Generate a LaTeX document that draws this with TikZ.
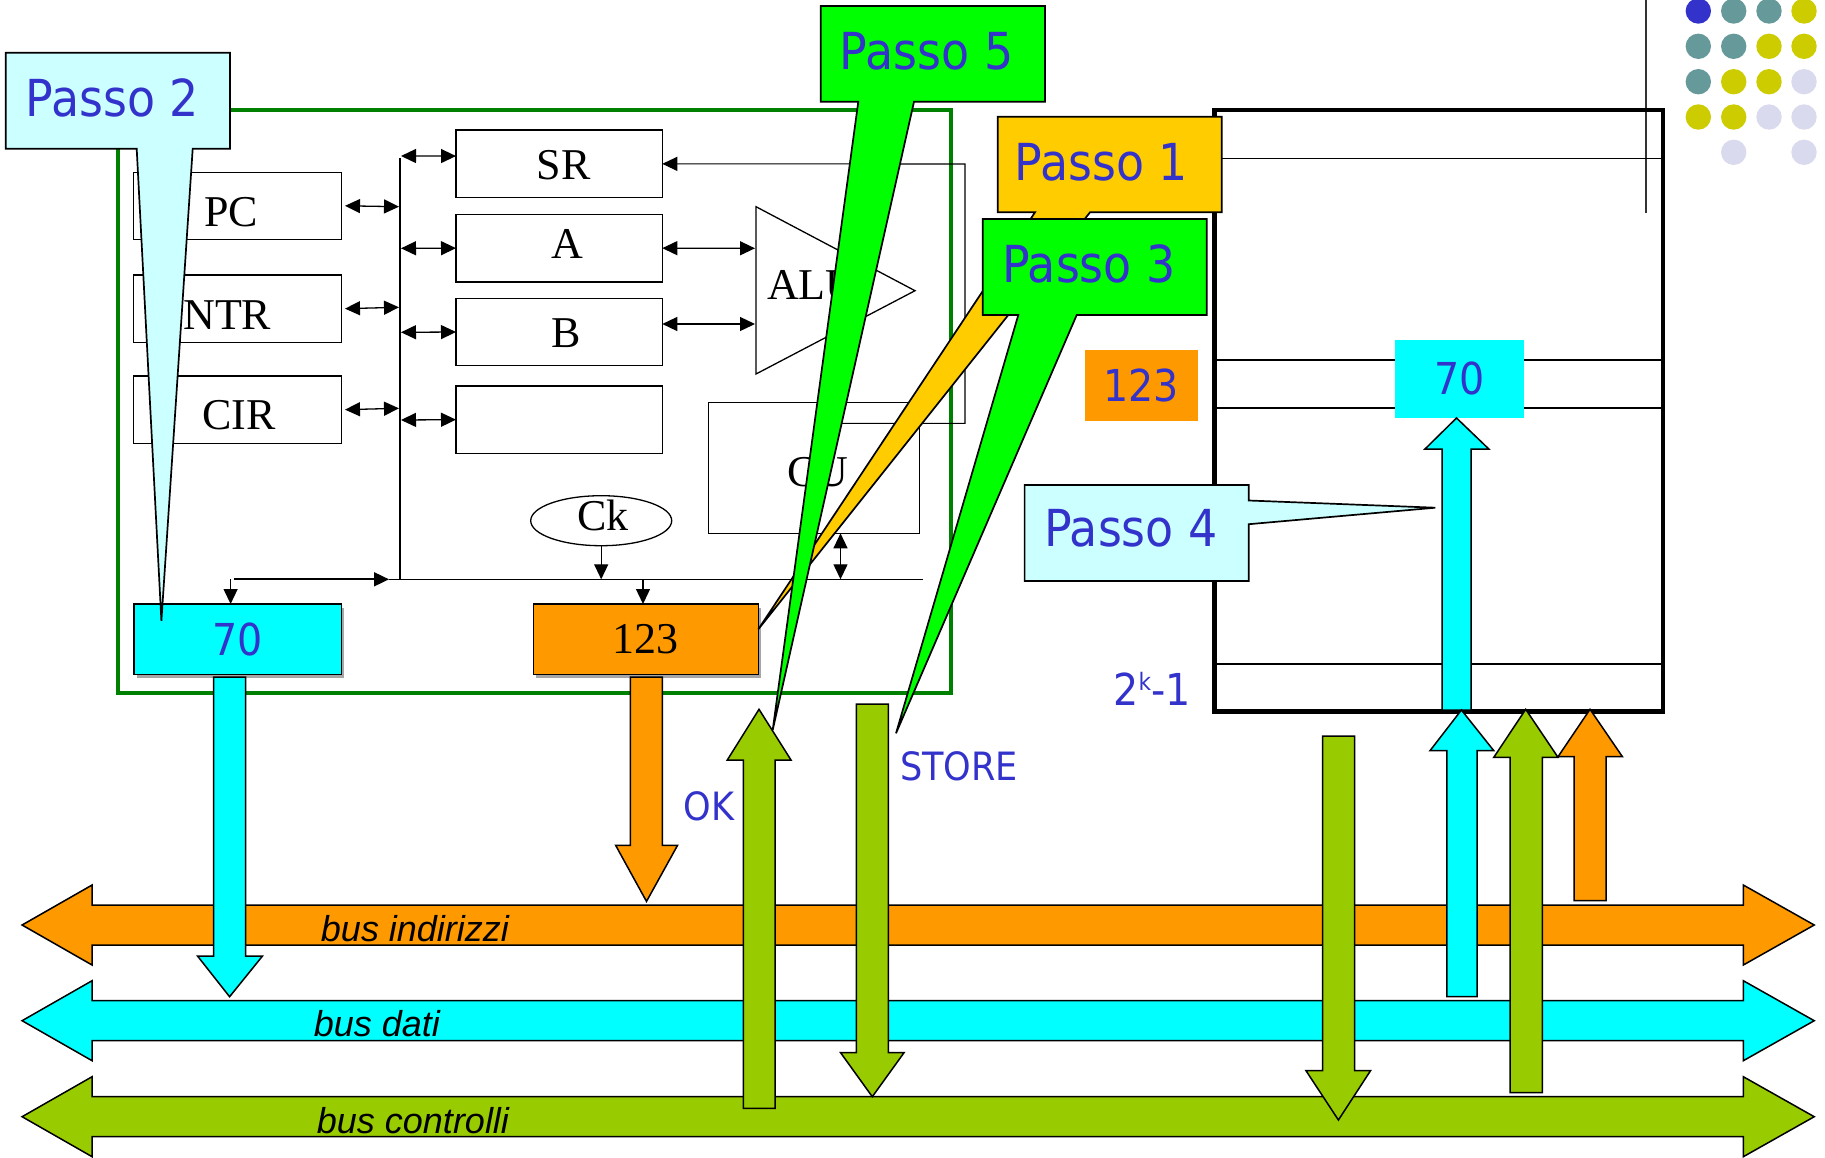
\documentclass[tikz,border=0pt]{standalone}
\usepackage{fontspec}
\setmainfont{Liberation Serif}
\newfontfamily\pfont[FakeStretch=0.9]{DejaVu Sans}
\newfontfamily\bfont{Liberation Sans}
\usetikzlibrary{arrows.meta,shapes.geometric,shadows}
\definecolor{cyanA}{HTML}{00FFFF}
\definecolor{orA}{HTML}{FF9900}
\definecolor{grA}{HTML}{99CC00}
\definecolor{limeA}{HTML}{00FF00}
\definecolor{goldA}{HTML}{FFCC00}
\definecolor{lcyanA}{HTML}{CCFFFF}
\definecolor{txtblue}{HTML}{3333CC}
\definecolor{cpugreen}{HTML}{008000}
\definecolor{dblue}{HTML}{3333CC}
\definecolor{dteal}{HTML}{669999}
\definecolor{dyel}{HTML}{CCCC00}
\definecolor{lav}{HTML}{DADAEE}
\tikzset{
  thinln/.style={line width=1.3pt},
  reg/.style={draw, line width=1.3pt, rectangle, inner sep=0pt, outer sep=0pt},
  dbl/.style={line width=1.3pt, {Triangle[length=15pt,width=14pt]}-{Triangle[length=15pt,width=14pt]}},
  sgl/.style={line width=1.3pt, -{Triangle[length=15pt,width=14pt]}},
  serif44/.style={font=\fontsize{44}{48}\selectfont, inner sep=0pt},
  ptext/.style={font=\pfont\fontsize{51}{56}\selectfont, text=txtblue, inner sep=0pt, anchor=base},
  ltext/.style={font=\pfont\fontsize{39}{44}\selectfont, text=txtblue, inner sep=0pt, anchor=base},
  bustext/.style={font=\bfont\itshape\fontsize{36}{40}\selectfont, inner sep=0pt, anchor=base},
  busarrow/.style={draw=black, line width=1.5pt, line join=miter},
  fat/.style={draw=black, line width=1.5pt, line join=miter},
  pbox/.style={draw=black, line width=1.7pt, line join=miter},
  shadowed/.style={drop shadow={shadow xshift=3pt, shadow yshift=-3.5pt, fill=gray!70, opacity=1}}
}
\newcommand\mybus[2]{%
  \filldraw[fill=#2, busarrow] (22.1,#1) -- (92.1,#1-40) -- (92.1,#1-20) -- (1743.3,#1-20) -- (1743.3,#1-40) -- (1814.2,#1) -- (1743.3,#1+40) -- (1743.3,#1+20) -- (92.1,#1+20) -- (92.1,#1+40) -- cycle;}
\begin{document}
\begin{tikzpicture}[x=1pt,y=-1pt]
\useasboundingbox (0,0) rectangle (1825,1157);
% decorative dots
\foreach \cc/\px/\py in {dblue/1698.3/11, dteal/1733.7/11, dteal/1769/11, dyel/1804/11,
  dteal/1698.3/46.3, dteal/1733.7/46.3, dyel/1769/46.3, dyel/1804/46.3,
  dteal/1698.3/81.7, dyel/1733.7/81.7, dyel/1769/81.7, lav/1804/81.7,
  dyel/1698.3/117, dyel/1733.7/117, lav/1769/117, lav/1804/117,
  lav/1733.7/152.3, lav/1804/152.3}
  \fill[\cc] (\px,\py) circle[radius=12.7pt];
\draw[thinln, black!80] (1646,0) -- (1646,212.6);

% CPU box
\draw[cpugreen, line width=4pt] (117.5,110) rectangle (950.5,692.5);

% registers
\node[reg, minimum width=208.4pt, minimum height=67pt] (pc) at (237.5,205.8) {};
\node[reg, minimum width=208.4pt, minimum height=67.3pt] (intr) at (237.5,308.65) {};
\node[reg, minimum width=208.4pt, minimum height=67.3pt] (cir) at (237.5,409.65) {};
\node[reg, minimum width=206.3pt, minimum height=67.7pt] (sr) at (559.15,163.85) {};
\node[reg, minimum width=206.3pt, minimum height=67.7pt] (a) at (559.15,248.15) {};
\node[reg, minimum width=206.3pt, minimum height=67.4pt] (b) at (559.15,332) {};
\node[reg, minimum width=206.3pt, minimum height=67.3pt] (emp) at (559.15,419.65) {};
\node[reg, minimum width=211pt, minimum height=130.6pt] (cu) at (813.8,468) {};
\node[draw, ellipse, line width=1.3pt, inner sep=0pt, outer sep=0pt, minimum width=141pt, minimum height=50pt] (ck) at (601.2,520.7) {};
\draw[line width=1.3pt, line join=miter] (756,206.7) -- (915,290.7) -- (756,374) -- cycle;
\coordinate (aluA) at (755,248.3);
\coordinate (aluB) at (755,324);

\node[serif44, anchor=base] (tpc) at (231.3,226) {PC};
\node[serif44, anchor=base] (tintr) at (220,329) {INTR};
\node[serif44, anchor=base] (tcir) at (239,429) {CIR};
\node[serif44, anchor=base] (tsr) at (563.8,179.3) {SR};
\node[serif44, anchor=base] (ta) at (567.8,258.7) {A};
\node[serif44, anchor=base] (tb) at (566.5,347.3) {B};
\node[serif44, anchor=base] (tck) at (602.8,530) {Ck};
\node[serif44, anchor=base] (tcu) at (818,486.7) {CU};
\node[serif44, anchor=base west] (talu) at (767,299.3) {ALU};

% internal bus
\coordinate (bust) at (400,158.3);
\coordinate (busb) at (400,579.3);
\draw[thinln] (bust) -- (busb);
\coordinate (jpc) at (399,206.7);
\coordinate (jintr) at (399,307.3);
\coordinate (jcir) at (399,408.3);
\draw[dbl] ([xshift=3.3pt]pc.east) -- (jpc);
\draw[dbl] ([xshift=3.3pt]intr.east) -- (jintr);
\draw[dbl] ([xshift=3.3pt]cir.east) -- (jcir);
\coordinate (jsr) at (401,156);
\coordinate (ja) at (401,248.3);
\coordinate (jb) at (401,332.3);
\coordinate (je) at (401,420);
\draw[dbl] (jsr) -- ([yshift=7.8pt]sr.west);
\draw[dbl] (ja) -- (a.west);
\draw[dbl] (jb) -- (b.west);
\draw[dbl] (je) -- (emp.west);
\draw[dbl] (a.east) -- (aluA);
\draw[dbl] ([yshift=8pt]b.east) -- (aluB);
\coordinate (fb1) at (830,423.3);
\coordinate (fb2) at (965,423.3);
\coordinate (fb3) at (965,164);
\draw[sgl, line width=1.1pt] (fb1) -- (fb2) -- (fb3) -- (sr.east);

% CPU bottom boxes
\node[reg, fill=cyanA, shadowed, minimum width=207.4pt, minimum height=70.3pt, text=txtblue, font=\pfont\fontsize{44}{48}\selectfont] (r70) at (237.7,639.15) {70};
\node[reg, fill=orA, shadowed, minimum width=224.9pt, minimum height=70.3pt, font=\fontsize{44}{48}\selectfont] (r123) at (645.85,639.15) {123};

\coordinate (hl) at (234.4,579.3);
\coordinate (harr) at (389,579.3);
\coordinate (hr) at (923,579.3);
\draw[sgl, line width=1.8pt] (hl) -- (harr);
\draw[thinln] (harr) -- (hr);
\coordinate (h70) at (230.6,579.3);
\draw[sgl] (h70) -- (h70 |- r70.north);
\draw[sgl] (ck.south) -- (ck.south |- hr);
\coordinate (h123) at (643,579.3);
\draw[sgl] (h123) -- (h123 |- r123.north);
\coordinate (hcu) at (840.5,579.3);
\draw[dbl] (hcu |- cu.south) -- (hcu);

% memory
\node[draw, line width=4.5pt, inner sep=0pt, outer sep=0pt, minimum width=448.7pt, minimum height=601.7pt] (mem) at (1438.65,410.85) {};
\foreach \ly in {158.3,360,408,664} \draw[thinln] (1214.3,\ly) -- (1663,\ly);
\node[fill=cyanA, inner sep=0pt, minimum width=128.7pt, minimum height=78.2pt, text=txtblue, font=\pfont\fontsize{44}{48}\selectfont] (m70) at (1459.35,378.9) {70};
\node[fill=orA, inner sep=0pt, minimum width=113pt, minimum height=70.6pt, text=txtblue, font=\pfont\fontsize{44}{48}\selectfont] (m123) at (1141.3,385.3) {123};
\filldraw[fat, fill=cyanA] (1442,710) -- (1442,449) -- (1425,449) -- (1456.5,418) -- (1488.8,449) -- (1471,449) -- (1471,710) -- cycle;
\node[font=\pfont\fontsize{44}{48}\selectfont, text=txtblue, inner sep=0pt, anchor=base] (t2k) at (1152,705) {2\raisebox{15pt}{\fontsize{24}{26}\selectfont k}-1};

% buses
\mybus{925}{orA}
\mybus{1020.7}{cyanA}
\mybus{1116.7}{grA}
\node[bustext] (lbi) at (415,941.7) {bus indirizzi};
\node[bustext] (lbd) at (376.8,1036.7) {bus dati};
\node[bustext] (lbc) at (413,1133.3) {bus controlli};

% vertical arrows
\filldraw[fat, fill=cyanA] (213.6,677) -- (213.6,956) -- (197.5,956) -- (229.6,996.7) -- (262.5,956) -- (245.7,956) -- (245.7,677) -- cycle;
\filldraw[fat, fill=orA] (630.4,677) -- (630.4,845.4) -- (615.7,845.4) -- (646.5,901.4) -- (677.5,845.4) -- (662.3,845.4) -- (662.3,677) -- cycle;
\filldraw[fat, fill=grA] (743.3,1108.3) -- (743.3,760) -- (727.3,760) -- (759,709.3) -- (791,760) -- (775,760) -- (775,1108.3) -- cycle;
\filldraw[fat, fill=grA] (856.3,704) -- (856.3,1052.7) -- (840.6,1052.7) -- (872.3,1096.7) -- (904,1052.7) -- (888.4,1052.7) -- (888.4,704) -- cycle;
\filldraw[fat, fill=grA] (1322.6,736) -- (1322.6,1070.7) -- (1306,1070.7) -- (1338.4,1120) -- (1370.5,1070.7) -- (1354.6,1070.7) -- (1354.6,736) -- cycle;
\filldraw[fat, fill=cyanA] (1446.8,996.7) -- (1446.8,750.7) -- (1430,750.7) -- (1461.4,710) -- (1493.8,750.7) -- (1477,750.7) -- (1477,996.7) -- cycle;
\filldraw[fat, fill=grA] (1510,1092.7) -- (1510,757.3) -- (1493.8,757.3) -- (1525.7,709.3) -- (1558,757.3) -- (1542.4,757.3) -- (1542.4,1092.7) -- cycle;
\filldraw[fat, fill=orA] (1574,900.7) -- (1574,756.7) -- (1558,756.7) -- (1590,709.3) -- (1622.4,756.7) -- (1606,756.7) -- (1606,900.7) -- cycle;

\node[ltext] (tok) at (709,820) {OK};
\node[ltext] (tstore) at (959,780.7) {STORE};

% callouts
\filldraw[pbox, fill=lcyanA] (5.7,52.7) -- (230,52.7) -- (230,148.7) -- (192.7,148.7) -- (161.4,620.7) -- (136.7,148.7) -- (5.7,148.7) -- cycle;
\node[ptext] (p2) at (112.5,116) {Passo 2};
\filldraw[pbox, fill=goldA] (997.7,116.7) -- (1221.7,116.7) -- (1221.7,212.3) -- (1090,212.3) -- (758.3,629.3) -- (1035,212.3) -- (997.7,212.3) -- cycle;
\node[ptext] (p1) at (1101.3,180) {Passo 1};
\filldraw[pbox, fill=limeA] (982.7,219) -- (1206.7,219) -- (1206.7,315) -- (1076.7,315) -- (896,733.3) -- (1018.3,315) -- (982.7,315) -- cycle;
\node[ptext] (p3) at (1089,282.7) {Passo 3};
\filldraw[pbox, fill=lcyanA] (1024.6,485) -- (1248.7,485) -- (1248.7,500.5) -- (1435.3,507.7) -- (1248.7,524.2) -- (1248.7,581) -- (1024.6,581) -- cycle;
\node[ptext] (p4) at (1131,546.5) {Passo 4};
\filldraw[pbox, fill=limeA] (820.7,6) -- (1045,6) -- (1045,101.7) -- (914,101.7) -- (772.7,730) -- (858.3,101.7) -- (820.7,101.7) -- cycle;
\node[ptext] (p5) at (926.7,69) {Passo 5};
\end{tikzpicture}
\end{document}
